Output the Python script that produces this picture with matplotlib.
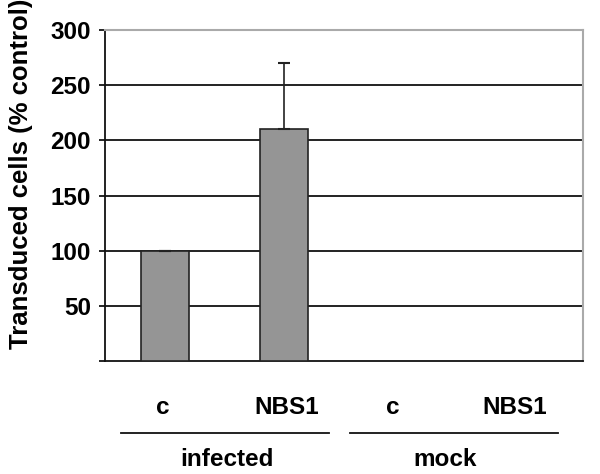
import numpy as np
import matplotlib.pyplot as plt

plt.rcParams['font.family'] = ['Liberation Sans', 'DejaVu Sans']
plt.rcParams['font.weight'] = 'bold'

# Data
categories = ['c', 'NBS1', 'c', 'NBS1']
groups = ['infected', 'mock']
values = [100, 210, np.nan, np.nan]
err_upper = [0, 60, 0, 0]

fs = 17.5

fig = plt.figure(figsize=(6, 4.74), dpi=100)
ax = fig.add_axes([0.175, 0.2384, 0.7967, 0.6983])

x = np.arange(len(categories))
ax.bar(x, values, width=0.4, color='#959595', edgecolor='#222222', linewidth=1.2, zorder=3)
ax.errorbar(x, values, yerr=[np.zeros(len(x)), err_upper], fmt='none',
            ecolor='#222222', elinewidth=1.2, capsize=4.5, capthick=1.5, zorder=4)

ax.set_xlim(-0.5, 3.5)
ax.set_ylim(0, 300)
ax.set_yticks(np.arange(0, 301, 50))
ax.set_yticklabels([''] + [str(v) for v in range(50, 301, 50)], fontsize=fs, fontweight='bold')
ax.tick_params(axis='y', length=4, width=1.2, pad=6)
ax.set_xticks([])

for yv in range(50, 300, 50):
    ax.axhline(yv, color='#111111', linewidth=1.3, zorder=1)

ax.spines['left'].set_color('#111111')
ax.spines['left'].set_linewidth(1.3)
ax.spines['bottom'].set_color('#111111')
ax.spines['bottom'].set_linewidth(1.3)
ax.spines['top'].set_color('#aaaaaa')
ax.spines['top'].set_linewidth(1.5)
ax.spines['right'].set_color('#aaaaaa')
ax.spines['right'].set_linewidth(1.5)

ax.set_ylabel('Transduced cells (% control)', fontsize=18.5, fontweight='bold')
ax.yaxis.set_label_coords(-0.151, 0.565)

# category labels, group lines and group labels below the axis
cat_x = [0.121, 0.381, 0.601, 0.858]
for cx, lab in zip(cat_x, categories):
    ax.text(cx, -0.142, lab, transform=ax.transAxes, ha='center', va='center',
            fontsize=fs, fontweight='bold')

line_spans = [(0.0335, 0.4686), (0.5126, 0.9477)]
group_x = [0.255, 0.711]
for (x0, x1), gx, g in zip(line_spans, group_x, groups):
    ax.plot([x0, x1], [-0.2175, -0.2175], transform=ax.transAxes, color='#111111',
            linewidth=1.3, clip_on=False)
    ax.text(gx, -0.299, g, transform=ax.transAxes, ha='center', va='center',
            fontsize=fs, fontweight='bold')

fig.savefig('out.png', dpi=100)
